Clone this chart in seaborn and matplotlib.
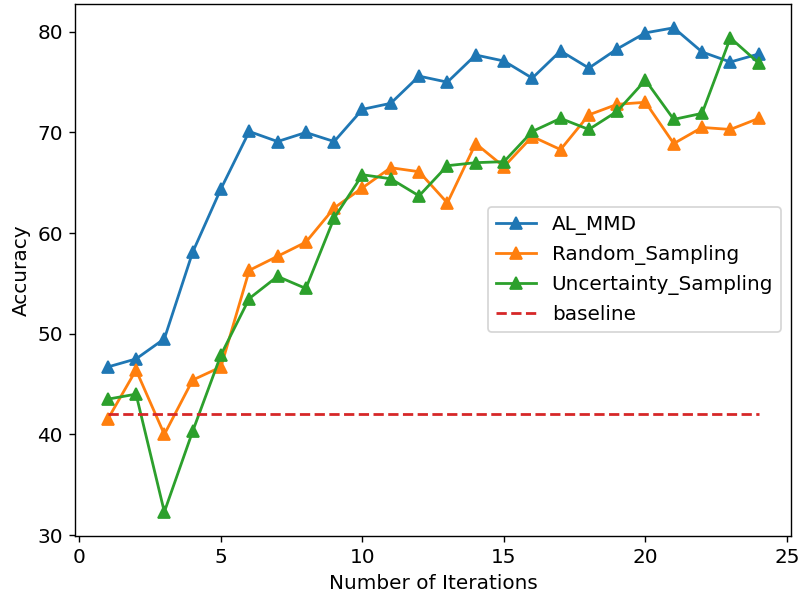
import matplotlib
matplotlib.use("Agg")
import matplotlib.pyplot as plt
import seaborn as sns
import pandas as pd

iterations = list(range(1, 25))
al_mmd = [46.7, 47.5, 49.5, 58.1, 64.4, 70.1, 69.1, 70.0, 69.1, 72.3, 72.9, 75.6,
          75.0, 77.7, 77.1, 75.4, 78.1, 76.4, 78.3, 79.9, 80.4, 78.0, 77.0, 77.8]
random_sampling = [41.5, 46.4, 40.0, 45.4, 46.7, 56.3, 57.7, 59.1, 62.5, 64.5, 66.5, 66.1,
                   63.0, 68.9, 66.6, 69.6, 68.3, 71.75, 72.8, 73.0, 68.9, 70.5, 70.3, 71.4]
uncertainty_sampling = [43.5, 44.0, 32.3, 40.3, 47.9, 53.5, 55.7, 54.5, 61.5, 65.8, 65.4, 63.7,
                        66.7, 67.0, 67.1, 70.1, 71.4, 70.3, 72.1, 75.2, 71.3, 71.9, 79.4, 76.9]
baseline = [42.0] * len(iterations)

series = {
    'AL_MMD': (al_mmd, 'tab:blue'),
    'Random_Sampling': (random_sampling, 'tab:orange'),
    'Uncertainty_Sampling': (uncertainty_sampling, 'tab:green'),
}

matplotlib.rcdefaults()
matplotlib.rcParams.update({"font.size": 11.5})
fig, ax = plt.subplots(figsize=(6.4, 4.808), dpi=125)

for name, (vals, col) in series.items():
    df = pd.DataFrame({'iteration': iterations, 'accuracy': vals})
    sns.lineplot(data=df, x='iteration', y='accuracy', ax=ax, label=name, color=col,
                 marker='^', markersize=7, markeredgecolor=col, markeredgewidth=1.0,
                 linewidth=1.6)

dfb = pd.DataFrame({'iteration': iterations, 'accuracy': baseline})
sns.lineplot(data=dfb, x='iteration', y='accuracy', ax=ax, label='baseline',
             color='tab:red', linestyle='--', linewidth=1.6)

ax.set_xlabel('Number of Iterations')
ax.set_ylabel('Accuracy')
ax.set_xticks([0, 5, 10, 15, 20, 25])
ax.set_yticks([30, 40, 50, 60, 70, 80])
ax.margins(x=0.05, y=0.05)
ax.legend(loc='center right', fontsize=11.5)

plt.subplots_adjust(left=0.094, right=0.989, top=0.994, bottom=0.108)
plt.savefig('out.png', dpi=125)
